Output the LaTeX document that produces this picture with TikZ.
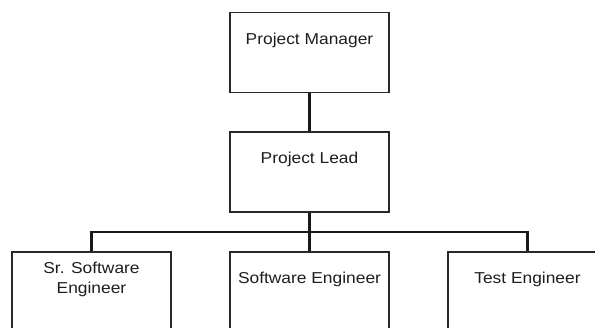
\documentclass[tikz,border=0pt]{standalone}
\usepackage{fontspec}
\setmainfont{Liberation Sans}[FakeStretch=1.1]
\usetikzlibrary{calc}
\definecolor{boxline}{RGB}{40,40,40}
\definecolor{txtcol}{RGB}{30,30,30}
\tikzset{
  orgbox/.style={draw=boxline, line width=1.6pt, minimum width=159pt, minimum height=80pt, inner sep=0pt, fill=white},
  orgtxt/.style={text=txtcol, font=\fontsize{15.8}{20.5}\selectfont, align=center, inner sep=0pt},
  conn/.style={draw=black!90, line width=2.4pt}
}
\begin{document}
\begin{tikzpicture}[x=1pt, y=-1pt]
\useasboundingbox (0,0) rectangle (595,327);
\clip (0,0) rectangle (595,327);
\coordinate (j) at (309.5,232);
\node[orgbox] (pm) at (309.5,52.5) {};
\node[orgbox] (pl) at (309.5,172) {};
\node[orgbox] (c1) at (91.5,292) {};
\node[orgbox] (c2) at (309.5,292) {};
\node[orgbox] (c3) at (527.5,292) {};
\draw[conn] (pm.south) -- (pl.north);
\draw[conn] (pl.south) -- (j);
\draw[conn] (j) -| (c1.north);
\draw[conn] (j) -| (c3.north);
\draw[conn] (j) -- (c2.north);
\node[orgtxt] (tpm) at ($(pm.north)+(0,28.5)$) {Project Manager};
\node[orgtxt] (tpl) at ($(pl.north)+(0,28.5)$) {Project Lead};
\node[orgtxt] (tc1) at ($(c1.north)+(0,28)$) {Sr. Software\\Engineer};
\node[orgtxt] (tc2) at ($(c2.north)+(0,28)$) {Software Engineer};
\node[orgtxt] (tc3) at ($(c3.north)+(0,28)$) {Test Engineer};
\end{tikzpicture}
\end{document}
